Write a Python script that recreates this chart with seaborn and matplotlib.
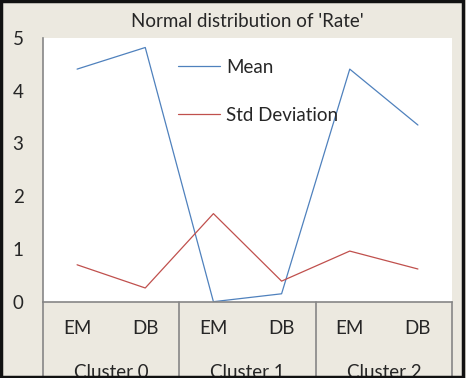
import numpy as np
import pandas as pd
import matplotlib
matplotlib.use("Agg")
import matplotlib.pyplot as plt
import matplotlib.transforms as mtransforms
import seaborn as sns

# data
clusters = ["Cluster 0", "Cluster 1", "Cluster 2"]
methods = ["EM", "DB"]
mean_vals = [4.41, 4.82, 0.0, 0.15, 4.41, 3.35]
std_vals = [0.70, 0.26, 1.67, 0.39, 0.96, 0.62]

labels = [m for c in clusters for m in methods]
pos = list(range(len(labels)))

df = pd.DataFrame({
    "pos": pos * 2,
    "value": mean_vals + std_vals,
    "series": ["Mean"] * len(pos) + ["Std Deviation"] * len(pos),
})

sns.set_style("white")
plt.rcParams["font.family"] = ["Lato", "DejaVu Sans"]

bg = "#ECE9E0"
fs = 13.5
fig = plt.figure(figsize=(4.66, 3.78), dpi=100, facecolor=bg)
W, H = 466, 378
ax = fig.add_axes([43 / W, (H - 301.7) / H, 409 / W, (301.7 - 38) / H])
ax.set_facecolor("white")

sns.lineplot(data=df, x="pos", y="value", hue="series",
             palette={"Mean": "#4F81BD", "Std Deviation": "#C0504D"},
             linewidth=0.9, ax=ax, legend=True)

ax.set_xlim(-0.5, len(pos) - 0.5)
ax.set_ylim(0, 5)
ax.set_yticks(range(6))
ax.tick_params(axis="y", length=0, labelsize=fs, pad=14)
ax.set_xticks([])
ax.set_xlabel("")
ax.set_ylabel("")
for s in ["top", "right"]:
    ax.spines[s].set_visible(False)
for s in ["left", "bottom"]:
    ax.spines[s].set_color("#868686")
    ax.spines[s].set_linewidth(1.2)

ax.set_title("Normal distribution of 'Rate'", fontsize=fs, pad=8)

# legend inside plot
leg = ax.legend(loc="upper left", bbox_to_anchor=(0.29, 0.985), frameon=False,
                fontsize=fs, handlelength=2.2, handletextpad=0.35,
                labelspacing=1.65)

# two-level category axis
trans = mtransforms.blended_transform_factory(ax.transData, ax.transAxes)
for p, lab in zip(pos, labels):
    ax.text(p, -0.10, lab, transform=trans, ha="center", va="center",
            fontsize=fs, clip_on=False)
for i, c in enumerate(clusters):
    ax.text(i * 2 + 0.5, -0.268, c, transform=trans, ha="center",
            va="center", fontsize=fs, clip_on=False)
for i in range(len(clusters) + 1):
    ax.plot([i * 2 - 0.5, i * 2 - 0.5], [0, -0.4], transform=trans,
            color="#868686", linewidth=1.2, clip_on=False)

# outer frame
fig.patches.append(plt.Rectangle((0.003, 0.003), 0.991, 0.994,
                                 transform=fig.transFigure, fill=False,
                                 edgecolor="#111111", linewidth=2.5))

fig.savefig("out.png", dpi=100, facecolor=bg)
